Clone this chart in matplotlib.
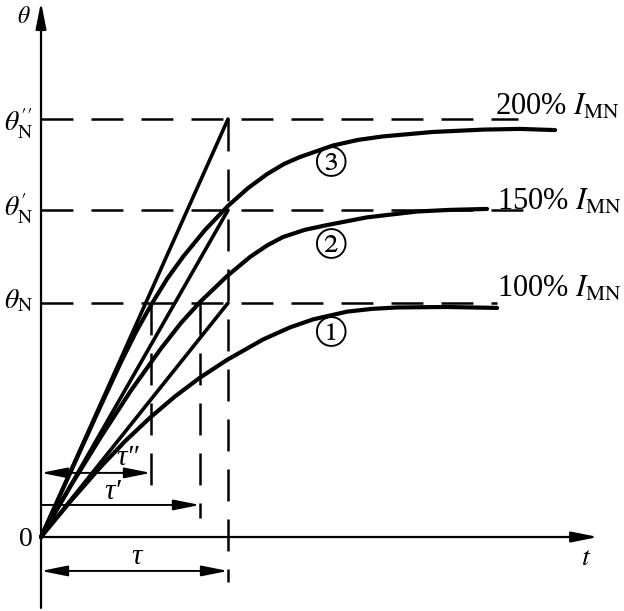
import matplotlib
matplotlib.use('Agg')
import matplotlib.pyplot as plt
from matplotlib.patches import FancyArrowPatch

plt.rcParams['mathtext.fontset'] = 'stix'
plt.rcParams['font.family'] = ['Liberation Serif', 'DejaVu Serif']
plt.rcParams['lines.scale_dashes'] = False

# time in units of tau, temperature rise in units of theta_N
theta_levels = [1.0, 1.397, 1.786]          # theta_N, theta_N', theta_N''
level_ends = [2.44, 2.626, 2.551]           # where the dashed level lines stop
level_labels = [r'$\theta_{\rm N}$', r'$\theta^{\prime}_{\rm N}$',
                r'$\theta^{\prime\prime}_{\rm N}$']
level_label_y = [0.979, 1.369, 1.733]
current_labels = [r'100% $I_{\rm MN}$', r'150% $I_{\rm MN}$', r'200% $I_{\rm MN}$']
current_label_x = [2.439, 2.439, 2.428]
current_label_y = [1.026, 1.397, 1.803]

t1 = [0, 0.155, 0.316, 0.449, 0.583, 0.717, 0.850, 0.995, 1.187, 1.332, 1.455,
      1.636, 1.770, 1.904, 2.171, 2.439]
th1 = [0, 0.150, 0.297, 0.409, 0.510, 0.601, 0.681, 0.757, 0.844, 0.896, 0.930,
       0.963, 0.975, 0.981, 0.983, 0.979]

t2 = [0, 0.160, 0.321, 0.481, 0.642, 0.749, 0.850, 0.995, 1.118, 1.209, 1.294,
      1.412, 1.529, 1.743, 2.011, 2.187, 2.385]
th2 = [0, 0.220, 0.429, 0.626, 0.806, 0.915, 1.004, 1.115, 1.197, 1.246, 1.282,
       1.313, 1.333, 1.366, 1.391, 1.398, 1.402]

t3 = [0, 0.107, 0.214, 0.321, 0.428, 0.508, 0.588, 0.674, 0.759, 0.877, 1.0,
      1.107, 1.209, 1.299, 1.385, 1.561, 1.695, 1.829, 2.096, 2.364, 2.561, 2.749]
th3 = [0, 0.188, 0.376, 0.564, 0.748, 0.876, 0.991, 1.103, 1.197, 1.312, 1.415,
       1.491, 1.551, 1.594, 1.624, 1.673, 1.697, 1.712, 1.731, 1.741, 1.744, 1.739]

curve_marks = ['①', '②', '③']
mark_t = [1.551, 1.551, 1.551]
mark_th = [0.860, 1.235, 1.585]

tau = 1.0
tau1 = 0.850     # tau'
tau2 = 0.588     # tau''

fig = plt.figure(figsize=(6.24, 6.11), dpi=100)
ax = fig.add_axes([0, 0, 1, 1])
ax.set_xlim(-0.2193, 3.1176)
ax.set_ylim(-0.3162, 2.2949)
ax.axis('off')

dash = (0, (23, 13))


def arrow(p0, p1, style='-|>', lw=1.4):
    a = FancyArrowPatch(p0, p1, arrowstyle=style + ',head_length=16,head_width=3.2',
                        mutation_scale=1, lw=lw, color='black',
                        shrinkA=0, shrinkB=0)
    ax.add_patch(a)


# axes
arrow((0, -0.303), (0, 2.286), lw=1.6)
arrow((0, 0), (2.979, 0), lw=1.6)
ax.text(-0.091, 2.22, r'$\theta$', fontsize=17, ha='center', va='center')
ax.text(-0.083, -0.009, '0', fontsize=20, ha='center', va='center')
ax.text(2.914, -0.09, r'$t$', fontsize=20, ha='center', va='center')

# dashed levels with labels
for lev, end, lab, ly in zip(theta_levels, level_ends, level_labels, level_label_y):
    ax.plot([0, end], [lev, lev], color='black', lw=1.8, linestyle=dash)
    ax.text(-0.043, ly, lab, fontsize=20, ha='right', va='baseline')

for lab, lx, ly in zip(current_labels, current_label_x, current_label_y):
    ax.text(lx, ly, lab, fontsize=22, ha='left', va='baseline')

# vertical dashed lines
ax.plot([tau, tau], [theta_levels[2], -0.192], color='black', lw=1.8, linestyle=dash)
ax.plot([tau1, tau1], [theta_levels[0], 0.081], color='black', lw=1.8, linestyle=dash)
ax.plot([tau2, tau2], [theta_levels[0], 0.2], color='black', lw=1.8, linestyle=dash)

# tangent lines
for lev in theta_levels:
    ax.plot([0, tau], [0, lev], color='black', lw=2.6, solid_capstyle='round')

# heating curves
for t, th in [(t1, th1), (t2, th2), (t3, th3)]:
    ax.plot(t, th, color='black', lw=3.0, solid_capstyle='round', solid_joinstyle='round')

for m, mt, mth in zip(curve_marks, mark_t, mark_th):
    ax.text(mt, mth, m, fontsize=32, ha='center', va='center',
            family=['STIXGeneral', 'Noto Sans CJK SC'])

# time constant arrows
arrow((0, 0.274), (tau2, 0.274), style='<|-|>')
arrow((0, 0.137), (tau1, 0.137))
arrow((0, -0.145), (tau, -0.145), style='<|-|>')
ax.text(0.465, 0.338, 'τ″', fontsize=21, fontstyle='italic', ha='center', va='center')
ax.text(0.385, 0.192, 'τ′', fontsize=21, fontstyle='italic', ha='center', va='center')
ax.text(0.513, -0.085, 'τ', fontsize=21, fontstyle='italic', ha='center', va='center')

fig.savefig('out.png', dpi=100)
